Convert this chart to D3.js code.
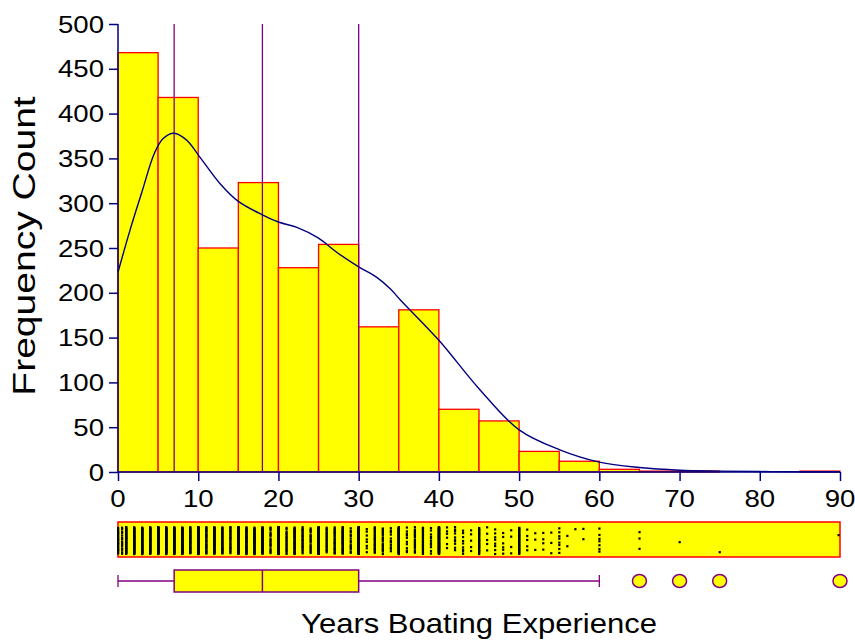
<!DOCTYPE html>
<html>
<head>
<meta charset="utf-8">
<script src="https://cdn.jsdelivr.net/npm/d3@7/dist/d3.min.js"></script>
<style>
  html, body { margin: 0; padding: 0; background: #fff; }
  svg { display: block; }
  text { font-family: "Liberation Sans", Arial, sans-serif; fill: #000; }
</style>
</head>
<body>
<svg id="chart" width="855" height="641"></svg>
<script>
// Histogram of years of boating experience (5-year bins)
const binStarts = [0, 5, 10, 15, 20, 25, 30, 35, 40, 45, 50, 55, 60, 65, 70, 75, 80, 85];
const binCounts = [468, 418, 250, 323, 228, 254, 162, 181, 70, 57, 23, 12, 3, 1, 1, 0, 0, 1];
const binWidth = 5;

// Smoothed density, expressed on the frequency-count scale
const densityYears  = [0, 1.5, 3, 4.5, 5.6, 7, 8.6, 10, 12.7, 15, 18, 20, 22.3, 25, 27.3, 30, 32.3, 34, 35.2, 40, 45, 50, 55, 60, 65, 70, 75, 80, 85, 90];
const densityCounts = [223, 270, 313, 355, 372, 378, 370, 354, 322, 302, 287, 279, 273, 261, 245, 229, 217, 204, 192, 147, 93, 47, 25, 11, 5, 2, 1, 0.5, 0.3, 0.2];

// Individual observations for the dot strip: distinct values and how often each occurs
const stripValues = [0, 0.5, 1, 2, 3, 4, 5, 6, 7, 8, 9, 10, 11, 12, 13, 14, 15, 16, 17, 18, 19, 20,
  21, 22, 23, 24, 25, 26, 27, 28, 29, 30, 31, 32, 33, 34, 35, 36, 37, 38, 39, 40,
  41, 42, 43, 44, 45, 46, 47, 48, 49, 50, 51, 52, 53, 54, 55, 56, 57, 58, 60, 65, 70, 75, 90];
const stripCounts = [25, 15, 70, 85, 80, 70, 123, 70, 75, 80, 40, 153, 30, 60, 35, 25, 100, 40, 45, 55, 18, 165,
  20, 40, 25, 18, 125, 20, 25, 40, 14, 155, 8, 25, 18, 11, 100, 10, 18, 22, 11, 120,
  6, 10, 9, 5, 40, 5, 8, 6, 4, 34, 5, 3, 4, 3, 8, 2, 1, 2, 7, 3, 1, 1, 1];

// Box plot summary
const quartiles = [7, 18, 30];          // Q1, median, Q3
const whiskers = [0, 60];
const outliers = [65, 70, 75, 90];

// Axis ticks
const xTicks = [0, 10, 20, 30, 40, 50, 60, 70, 80, 90];
const yTicks = [0, 50, 100, 150, 200, 250, 300, 350, 400, 450, 500];

const xTitle = "Years Boating Experience";
const yTitle = "Frequency Count";

const NAVY = "#000080", PURPLE = "#800080", RED = "#ff0000", YELLOW = "#ffff00";
const STRETCH = 1.15;   // text is drawn slightly wide

const svg = d3.select("#chart");
const x = d3.scaleLinear().domain([0, 90]).range([118, 840]);
const y = d3.scaleLinear().domain([0, 500]).range([472, 24]);

// Histogram bars
svg.append("g").selectAll("rect")
  .data(binStarts.map((s, i) => ({ s, c: binCounts[i] })).filter(d => d.c > 0))
  .join("rect")
  .attr("x", d => x(d.s))
  .attr("y", d => y(d.c))
  .attr("width", d => x(d.s + binWidth) - x(d.s))
  .attr("height", d => y(0) - y(d.c))
  .attr("fill", YELLOW)
  .attr("stroke", RED)
  .attr("stroke-width", 1.3);

// Quartile reference lines
svg.append("g").selectAll("line")
  .data(quartiles)
  .join("line")
  .attr("x1", d => x(d)).attr("x2", d => x(d))
  .attr("y1", y(500)).attr("y2", y(0))
  .attr("stroke", PURPLE)
  .attr("stroke-width", 1.3);

// Density curve
const line = d3.line()
  .x(d => x(d[0]))
  .y(d => y(d[1]))
  .curve(d3.curveCatmullRom.alpha(0.5));
svg.append("path")
  .datum(densityYears.map((v, i) => [v, densityCounts[i]]))
  .attr("d", line)
  .attr("fill", "none")
  .attr("stroke", NAVY)
  .attr("stroke-width", 1.4);

// Axes
const yAxis = svg.append("g")
  .attr("transform", `translate(${x(0)},0)`)
  .call(d3.axisLeft(y).tickValues(yTicks).tickSize(9).tickFormat(""));
const xAxis = svg.append("g")
  .attr("transform", `translate(0,${y(0)})`)
  .call(d3.axisBottom(x).tickValues(xTicks).tickSize(9).tickFormat(""));
[yAxis, xAxis].forEach(g => {
  g.select(".domain").attr("stroke", NAVY).attr("stroke-width", 1.5);
  g.selectAll(".tick line").attr("stroke", NAVY).attr("stroke-width", 1.5);
});
// make the axis lines run exactly over the data area
yAxis.select(".domain").attr("d", `M0,${y(500)}V${y(0)}`);
xAxis.select(".domain").attr("d", `M${x(0)},0H${x(90)}`);

// Tick labels
svg.append("g").selectAll("text")
  .data(yTicks)
  .join("text")
  .attr("transform", d => `translate(${x(0) - 14},${y(d) + 8.5}) scale(${STRETCH},1)`)
  .attr("text-anchor", "end")
  .attr("font-size", 24)
  .text(d => d);
svg.append("g").selectAll("text")
  .data(xTicks)
  .join("text")
  .attr("transform", d => `translate(${x(d)},${y(0) + 35}) scale(${STRETCH},1)`)
  .attr("text-anchor", "middle")
  .attr("font-size", 24)
  .text(d => d);

// Dot strip of individual observations
const stripTop = 522, stripBottom = 557;
svg.append("rect")
  .attr("x", x(0)).attr("y", stripTop)
  .attr("width", x(90) - x(0)).attr("height", stripBottom - stripTop)
  .attr("fill", YELLOW).attr("stroke", RED).attr("stroke-width", 1.5);

const dots = [];
stripValues.forEach((v, k) => {
  const n = stripCounts[k];
  for (let i = 0; i < n; i++) {
    // quasi-random vertical spread inside the strip
    const f = ((i + 1) * 0.6180339887 + k * 0.37) % 1;
    dots.push({ v, f });
  }
});
svg.append("g").selectAll("rect")
  .data(dots)
  .join("rect")
  .attr("x", d => Math.min(x(d.v), x(90) - 1.5) - 1)
  .attr("y", d => stripTop + 4 + d.f * (stripBottom - stripTop - 8))
  .attr("width", 2.2).attr("height", 2.2)
  .attr("fill", "#000");

// Box plot
const boxY = 581, boxH = 22, capH = 12;
const bp = svg.append("g");
bp.append("line")
  .attr("x1", x(whiskers[0])).attr("x2", x(quartiles[0]))
  .attr("y1", boxY).attr("y2", boxY)
  .attr("stroke", PURPLE).attr("stroke-width", 1.3);
bp.append("line")
  .attr("x1", x(quartiles[2])).attr("x2", x(whiskers[1]))
  .attr("y1", boxY).attr("y2", boxY)
  .attr("stroke", PURPLE).attr("stroke-width", 1.3);
bp.selectAll("line.cap")
  .data(whiskers)
  .join("line")
  .attr("class", "cap")
  .attr("x1", d => x(d)).attr("x2", d => x(d))
  .attr("y1", boxY - capH / 2).attr("y2", boxY + capH / 2)
  .attr("stroke", PURPLE).attr("stroke-width", 1.3);
bp.append("rect")
  .attr("x", x(quartiles[0])).attr("y", boxY - boxH / 2)
  .attr("width", x(quartiles[2]) - x(quartiles[0])).attr("height", boxH)
  .attr("fill", YELLOW).attr("stroke", PURPLE).attr("stroke-width", 1.5);
bp.append("line")
  .attr("x1", x(quartiles[1])).attr("x2", x(quartiles[1]))
  .attr("y1", boxY - boxH / 2).attr("y2", boxY + boxH / 2)
  .attr("stroke", PURPLE).attr("stroke-width", 1.5);
bp.selectAll("ellipse")
  .data(outliers)
  .join("ellipse")
  .attr("cx", d => x(d)).attr("cy", boxY)
  .attr("rx", 7).attr("ry", 6.5)
  .attr("fill", YELLOW).attr("stroke", PURPLE).attr("stroke-width", 1.5);

// Axis titles
svg.append("text")
  .attr("transform", `translate(${(x(0) + x(90)) / 2},633) scale(${STRETCH},1)`)
  .attr("text-anchor", "middle")
  .attr("font-size", 27)
  .text(xTitle);
svg.append("text")
  .attr("transform", `translate(35,${(y(0) + y(500)) / 2 - 2}) rotate(-90) scale(1.22,1)`)
  .attr("text-anchor", "middle")
  .attr("font-size", 32)
  .text(yTitle);
</script>
</body>
</html>
